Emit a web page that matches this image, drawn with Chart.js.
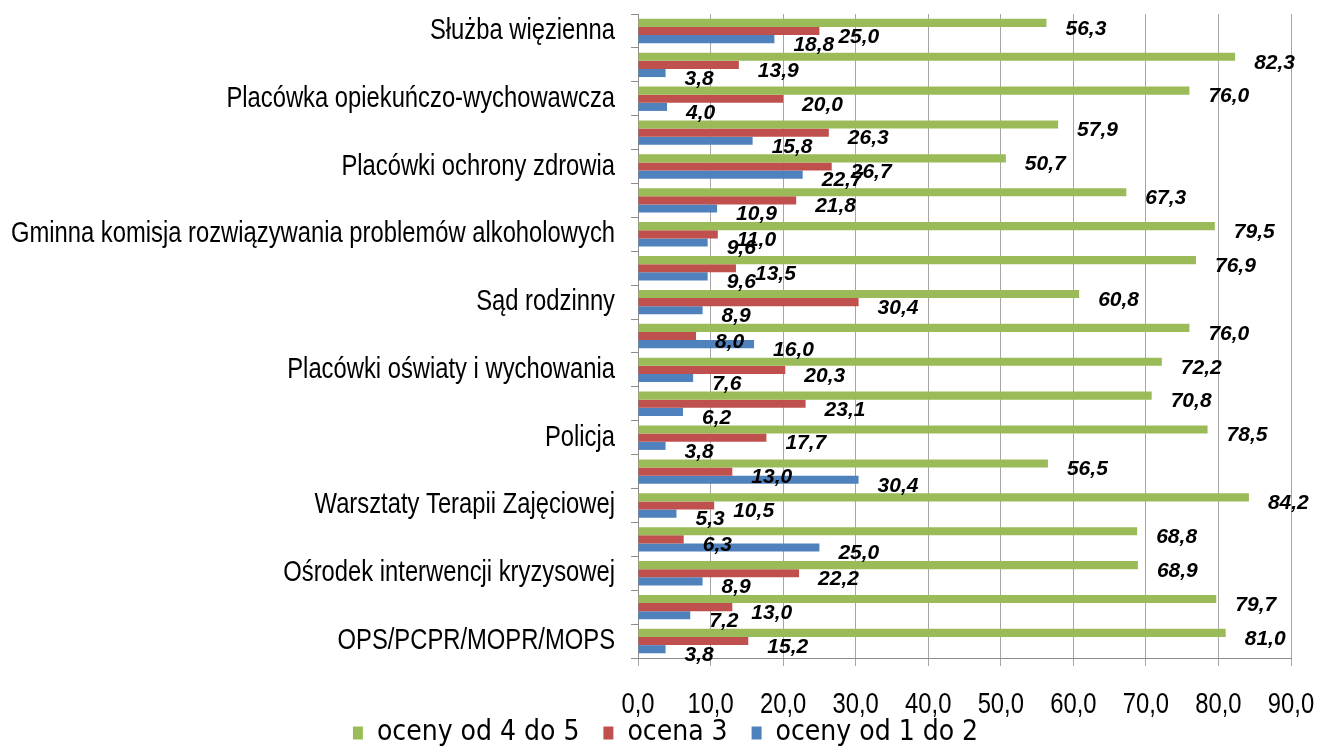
<!DOCTYPE html>
<html>
<head>
<meta charset="utf-8">
<script src="https://cdn.jsdelivr.net/npm/chart.js@4"></script>
<style>
    body { margin: 0; background: #fff; }
    #wrap { width: 1321px; height: 749px; }
</style>
</head>
<body>
<div id="wrap"><canvas id="chart-1"></canvas></div>
<script>
// every other category label is hidden on the original axis
const categories = [
    'Służba więzienna', '',
    'Placówka opiekuńczo-wychowawcza', '',
    'Placówki ochrony zdrowia', '',
    'Gminna komisja rozwiązywania problemów alkoholowych', '',
    'Sąd rodzinny', '',
    'Placówki oświaty i wychowania', '',
    'Policja', '',
    'Warsztaty Terapii Zajęciowej', '',
    'Ośrodek interwencji kryzysowej', '',
    'OPS/PCPR/MOPR/MOPS'
]
const oceny45 = [56.3, 82.3, 76.0, 57.9, 50.7, 67.3, 79.5, 76.9, 60.8, 76.0, 72.2, 70.8, 78.5, 56.5, 84.2, 68.8, 68.9, 79.7, 81.0]
const ocena3 = [25.0, 13.9, 20.0, 26.3, 26.7, 21.8, 11.0, 13.5, 30.4, 8.0, 20.3, 23.1, 17.7, 13.0, 10.5, 6.3, 22.2, 13.0, 15.2]
const oceny12 = [18.8, 3.8, 4.0, 15.8, 22.7, 10.9, 9.6, 9.6, 8.9, 16.0, 7.6, 6.2, 3.8, 30.4, 5.3, 25.0, 8.9, 7.2, 3.8]
const seriesNames = ['oceny od 4 do 5', 'ocena 3', 'oceny od 1 do 2']
const xMax = 90
const xStep = 10

const fmt = v => Number(v).toFixed(1).replace('.', ',')

// narrow font is not installed, so squeeze Liberation Sans sideways instead
function drawSqueezed(ctx, text, px, py, align) {
    ctx.save()
    ctx.translate(px, py)
    ctx.scale(0.82, 1)
    ctx.textAlign = align
    ctx.fillText(text, 0, 0)
    ctx.restore()
}

const axisLabelsPlugin = {
    id: 'axisLabels',
    afterDraw(chart) {
        const { ctx, scales: { x, y } } = chart
        ctx.save()
        ctx.fillStyle = '#000'
        ctx.textBaseline = 'middle'
        ctx.font = '29px "Liberation Sans", Arial, sans-serif'
        y.ticks.forEach((t, i) => {
            drawSqueezed(ctx, y.getLabelForValue(t.value), y.right - 23, y.getPixelForTick(i), 'right')
        })
        x.ticks.forEach((t, i) => {
            drawSqueezed(ctx, fmt(t.value), x.getPixelForTick(i), x.top + 47, 'center')
        })
        ctx.restore()
    }
}

// value labels right of bar ends, bold italic like the excel ones
const barLabelsPlugin = {
    id: 'barLabels',
    afterDatasetsDraw(chart) {
        const ctx = chart.ctx
        ctx.save()
        ctx.font = 'italic bold 21px "Liberation Sans", Arial, sans-serif'
        ctx.fillStyle = '#000'
        ctx.textAlign = 'left'
        ctx.textBaseline = 'middle'
        chart.data.datasets.forEach((ds, i) => {
            chart.getDatasetMeta(i).data.forEach((bar, j) => {
                ctx.fillText(fmt(ds.data[j]), bar.x + 19, bar.y + 6)
            })
        })
        ctx.restore()
    }
}

const ctx1 = document.getElementById('chart-1')

new Chart(ctx1, {
    type: 'bar',
    data: {
        labels: categories,
        datasets: [
            { label: seriesNames[0], data: oceny45, backgroundColor: '#9BBB59' },
            { label: seriesNames[1], data: ocena3, backgroundColor: '#C0504D' },
            { label: seriesNames[2], data: oceny12, backgroundColor: '#4F81BD' }
        ]
    },
    options: {
        indexAxis: 'y',
        responsive: true,
        maintainAspectRatio: false,
        animation: false,
        categoryPercentage: 0.72,
        barPercentage: 1,
        layout: {
            padding: { top: 14, right: 30, bottom: -8, left: 40 }
        },
        plugins: {
            tooltip: { enabled: false },
            legend: {
                position: 'bottom',
                labels: {
                    boxWidth: 10,
                    boxHeight: 13,
                    padding: 24,
                    color: '#000',
                    font: { family: '"DejaVu Sans Condensed", sans-serif', size: 28 }
                }
            }
        },
        scales: {
            x: {
                min: 0,
                max: xMax,
                ticks: { stepSize: xStep, display: false },
                grid: { color: '#a6a6a6', tickLength: 8 },
                border: { color: '#8c8c8c' },
                afterFit(scale) {
                    scale.height = 37
                    scale.paddingLeft = 0
                    scale.paddingRight = 0
                }
            },
            y: {
                ticks: { autoSkip: false, display: false },
                grid: {
                    drawOnChartArea: false,
                    offset: true,
                    tickLength: 7,
                    color: '#8c8c8c'
                },
                border: { color: '#8c8c8c' },
                afterFit(scale) {
                    scale.width = 598
                    scale.paddingTop = 0
                    scale.paddingBottom = 0
                }
            }
        }
    },
    plugins: [barLabelsPlugin, axisLabelsPlugin]
})
</script>
</body>
</html>
